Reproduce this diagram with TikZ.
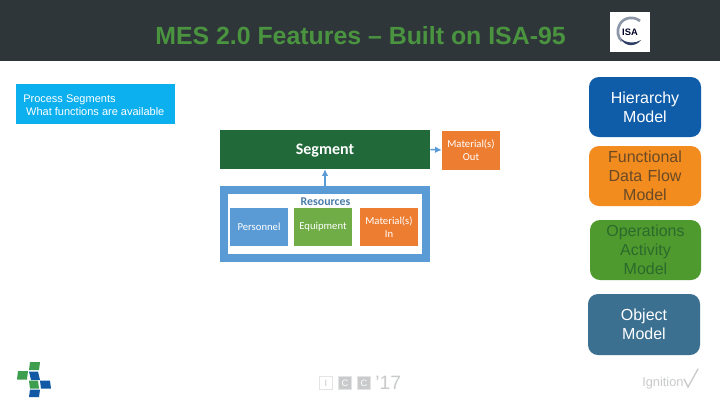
\documentclass[tikz,border=0pt]{standalone}
\usepackage{fontspec}
\setmainfont{Liberation Sans}
\newfontfamily\cali{Carlito}
\usetikzlibrary{arrows.meta}
\definecolor{hdr}{HTML}{2F363A}
\definecolor{ttl}{HTML}{4A9440}
\definecolor{cyanb}{HTML}{0DB0EE}
\definecolor{seg}{HTML}{22693A}
\definecolor{orng}{HTML}{ED7D31}
\definecolor{blu}{HTML}{5B9BD5}
\definecolor{grn}{HTML}{70AD47}
\definecolor{hier}{HTML}{0F5CA8}
\definecolor{func}{HTML}{F28C1E}
\definecolor{functx}{HTML}{6A4A26}
\definecolor{oper}{HTML}{4F9A2E}
\definecolor{opertx}{HTML}{2A6A2C}
\definecolor{objm}{HTML}{3B7091}
\definecolor{logog}{HTML}{3E9E50}
\definecolor{logob}{HTML}{1259A5}
\definecolor{lgrey}{HTML}{C8CACB}
\definecolor{isagrey}{HTML}{8E97A8}
\definecolor{isadark}{HTML}{2F3F66}
\tikzset{
 px/.style={x=0.75pt,y=-0.75pt},
 rbox/.style={rounded corners=7.5pt,text width=78pt,align=center,inner sep=0pt,font=\fontsize{12}{14.4}\selectfont},
 flat/.style={inner sep=0pt,align=center,font=\cali\fontsize{8}{9.8}\selectfont,text=white},
 conn/.style={draw=blu,line width=1.1pt,-{Latex[length=5pt,width=5pt]}},
 iccbox/.style={draw=lgrey!50,minimum size=9.5pt,inner sep=0pt,line width=0.5pt},
 icct/.style={font=\fontsize{7}{7}\selectfont,inner sep=0pt}
}
\begin{document}
\begin{tikzpicture}[px]
\useasboundingbox (0,0) rectangle (720,405);
\fill[white] (0,0) rectangle (720,405);
\fill[hdr] (0,0) rectangle (720,61);
\node[text=ttl,font=\bfseries\fontsize{18.65}{20}\selectfont,inner sep=0pt] (title) at (360.5,35.5) {MES 2.0 Features – Built on ISA-95};
% ISA logo
\node[fill=white,minimum width=30pt,minimum height=30pt,inner sep=0pt] (isa) at (630,32) {};
\draw[line width=2pt,draw=isagrey] (640,21) .. controls (634,16) and (624,17) .. (620,24) .. controls (616,31) and (618,38) .. (622,41);
\fill[isadark] (621,39) .. controls (625,47) and (636,47) .. (641,40) .. controls (635,44) and (626,43) .. cycle;
\node[font=\bfseries\fontsize{7}{7}\selectfont,text=black!85!blue,inner sep=0pt] (isat) at (630,32) {ISA};
% Cyan note
\node[fill=cyanb,minimum width=119.25pt,minimum height=30pt,inner sep=0pt] (note) at (95.5,104) {};
\node[anchor=west,text=white,align=left,font=\fontsize{8.25}{10}\selectfont,inner sep=0pt] (notet) at (23,105) {Process Segments\\[-0.3pt]\hspace*{2.2pt}What functions are available};
% central
\node[fill=seg,minimum width=157.5pt,minimum height=29.25pt,inner sep=0pt] (segment) at (325,149.5) {};
\node[text=white,font=\cali\bfseries\fontsize{12}{14}\selectfont,inner sep=0pt] (segt) at (325,150.5) {Segment};
\node[fill=orng,minimum width=43.5pt,minimum height=29.25pt,flat] (mout) at (471,150) {Material(s)\\Out};
\node[draw=blu,line width=6pt,fill=white,minimum width=151.5pt,minimum height=51pt,inner sep=0pt] (res) at (325,224) {};
\node[text=blu!80!black,font=\cali\bfseries\fontsize{8.9}{10}\selectfont,inner sep=0pt] (rest) at (325.5,202) {Resources};
\node[fill=blu,minimum width=43.5pt,minimum height=28.5pt,flat] (pers) at (259,227) {Personnel};
\node[fill=grn,minimum width=43.5pt,minimum height=28.5pt,flat] (equip) at (323,227) {Equipment};
\node[fill=orng,minimum width=43.5pt,minimum height=28.5pt,flat] (min) at (389,227) {Material(s)\\In};
\draw[conn] (res.north) -- (segment.south);
\draw[conn] (segment.east) -- (mout.west);
% right models
\node[fill=hier,minimum width=84pt,minimum height=45pt,rbox,text=white] (h) at (645,107) {Hierarchy\\Model};
\node[fill=func,minimum width=84pt,minimum height=45pt,rbox,text=functx] (f) at (645,176) {Functional\\Data Flow\\Model};
\node[fill=oper,minimum width=83.25pt,minimum height=45pt,rbox,text=opertx] (o) at (645.5,250) {Operations\\Activity\\Model};
\node[fill=objm,minimum width=84pt,minimum height=45.75pt,rbox,text=white] (m) at (644,324.5) {Object\\Model};
% bottom-left logo
\fill[logog] (30,362) -- (40,362) -- (39,370) -- (29,370) -- cycle;
\fill[logog] (18,371) -- (28,371) -- (27,379.5) -- (17,379.5) -- cycle;
\fill[logob] (29,371.5) -- (38,371.5) -- (40,380) -- (31,380) -- cycle;
\fill[logog] (29,380.5) -- (38,380.5) -- (39,388.5) -- (30,388.5) -- cycle;
\fill[logob] (40,380.5) -- (50,380.5) -- (51,388.5) -- (41,388.5) -- cycle;
\fill[logob] (30,389.5) -- (40,389.5) -- (39,397) -- (29,397) -- cycle;
% ICC mark
\node[iccbox,fill=white] (a) at (326,383) {};
\node[iccbox,fill=lgrey] (b) at (345,383) {};
\node[iccbox,fill=lgrey] (c) at (364,383) {};
\node[text=lgrey,icct] (ta) at (a) {I};
\node[text=white,icct] (tb) at (b) {C};
\node[text=white,icct] (tc) at (c) {C};
\node[text=lgrey,font=\fontsize{14.5}{15}\selectfont,anchor=west,inner sep=0pt] (yr) at (375,383) {'17};
% Ignition
\node[text=lgrey,font=\fontsize{9.6}{10}\selectfont,anchor=west,inner sep=0pt] (ign) at (642,383) {Ignition};
\draw[lgrey,line width=1pt,line cap=round] (684,379) -- (688,387) -- (698,369);
\end{tikzpicture}
\end{document}
